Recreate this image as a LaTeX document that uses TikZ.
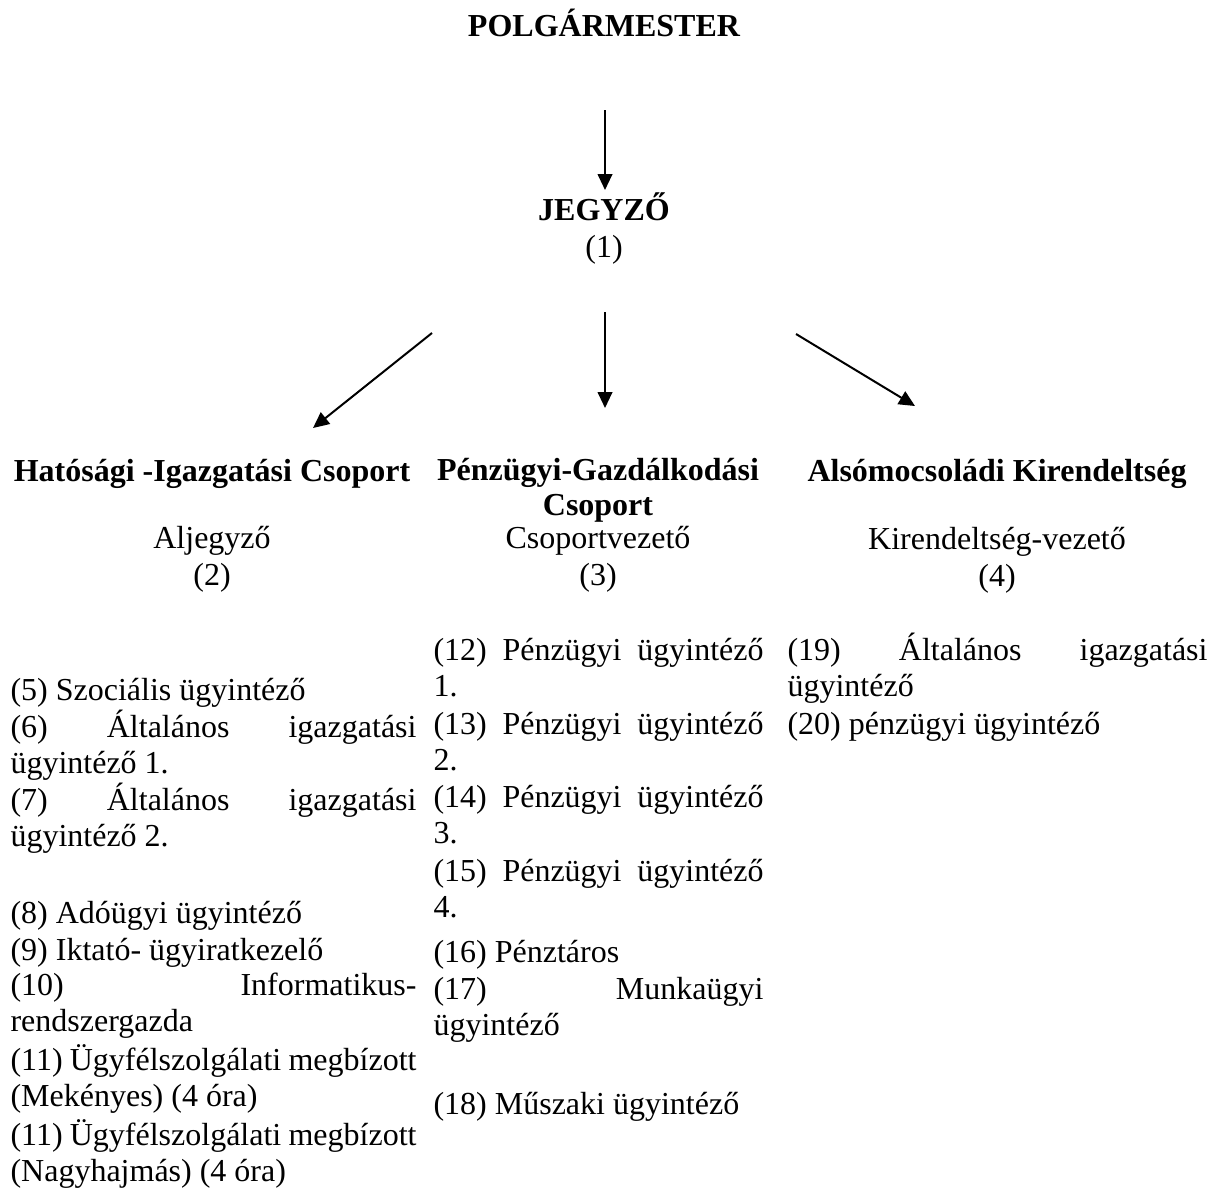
\documentclass[tikz,border=0pt]{standalone}
\usepackage{fontspec}
\setmainfont{Liberation Serif}
\usetikzlibrary{arrows.meta}
\hyphenpenalty=10000
\tikzset{
    arr/.style={-{Triangle[length=6pt,width=5.5pt]}, line width=0.75pt},
    head/.style={anchor=base, inner sep=0pt, align=center, font=\fontsize{12}{13.8}\selectfont\bfseries},
    sub/.style={anchor=base, inner sep=0pt, align=center},
    item/.style={anchor=base west, inner sep=0pt, align=justify},
    leftcol/.style={item, text width=152.25pt},
    midcol/.style={item, text width=123.75pt},
    rightcol/.style={item, text width=157.5pt}
}

\begin{document}
\begin{tikzpicture}[x=0.375pt, y=-0.375pt, font=\fontsize{12}{13.8}\selectfont]
\useasboundingbox (0,0) rectangle (1210,1203);
% top of the chart
\node[head] (polg) at (604,37) {POLGÁRMESTER};
\node[head] (jegy) at (604,220) {JEGYZŐ};
\node[sub] (jegyno) at (604,257) {(1)};
\coordinate (top-s) at (605,110);
\coordinate (top-t) at (605,190);
\draw[arr] (top-s) -- (top-t);
\coordinate (hat-s) at (432,333);
\coordinate (hat-t) at (313,428);
\coordinate (penz-s) at (605,312);
\coordinate (penz-t) at (605,408);
\coordinate (als-s) at (796,334);
\coordinate (als-t) at (915,406);
\draw[arr] (hat-s) -- (hat-t);
\draw[arr] (penz-s) -- (penz-t);
\draw[arr] (als-s) -- (als-t);
% groups (base of a two-line node is its last line)
\node[head] (hat) at (212,481) {Hatósági -Igazgatási Csoport};
\node[sub] (hatvez) at (212,585) {Aljegyző\\(2)};
\node[head] (penz) at (598,515) {Pénzügyi-Gazdálkodási\\[-1pt]Csoport};
\node[sub] (penzvez) at (598,585) {Csoportvezető\\(3)};
\node[head] (als) at (997,481) {Alsómocsoládi Kirendeltség};
\node[sub] (alsvez) at (997,586) {Kirendeltség-vezető\\(4)};
% staff, left group
\node[leftcol] (l5) at (10,700) {(5) Szociális ügyintéző};
\node[leftcol] (l6) at (10,737) {(6) Általános igazgatási\linebreak ügyintéző 1.};
\node[leftcol] (l7) at (10,810) {(7) Általános igazgatási\linebreak ügyintéző 2.};
\node[leftcol] (l8) at (10,923) {(8) Adóügyi ügyintéző};
\node[leftcol] (l9) at (10,960) {(9) Iktató- ügyiratkezelő};
\node[leftcol] (l10) at (10,995) {(10) Informatikus-\linebreak rendszergazda};
\node[leftcol] (l11a) at (10,1070) {(11) Ügyfélszolgálati megbízott\\(Mekényes) (4 óra)};
\node[leftcol] (l11b) at (10,1145) {(11) Ügyfélszolgálati megbízott\\(Nagyhajmás) (4 óra)};
% staff, middle group
\node[midcol] (m12) at (433,660) {(12) Pénzügyi ügyintéző\linebreak 1.};
\node[midcol] (m13) at (433,734) {(13) Pénzügyi ügyintéző\linebreak 2.};
\node[midcol] (m14) at (433,807) {(14) Pénzügyi ügyintéző\linebreak 3.};
\node[midcol] (m15) at (433,881) {(15) Pénzügyi ügyintéző\linebreak 4.};
\node[midcol] (m16) at (433,962) {(16) Pénztáros};
\node[midcol] (m17) at (433,999) {(17) Munkaügyi\linebreak ügyintéző};
\node[midcol] (m18) at (433,1114) {(18) Műszaki ügyintéző};
% staff, right group
\node[rightcol] (r19) at (787,660) {(19) Általános igazgatási\linebreak ügyintéző};
\node[rightcol] (r20) at (787,734) {(20) pénzügyi ügyintéző};
\end{tikzpicture}
\end{document}
